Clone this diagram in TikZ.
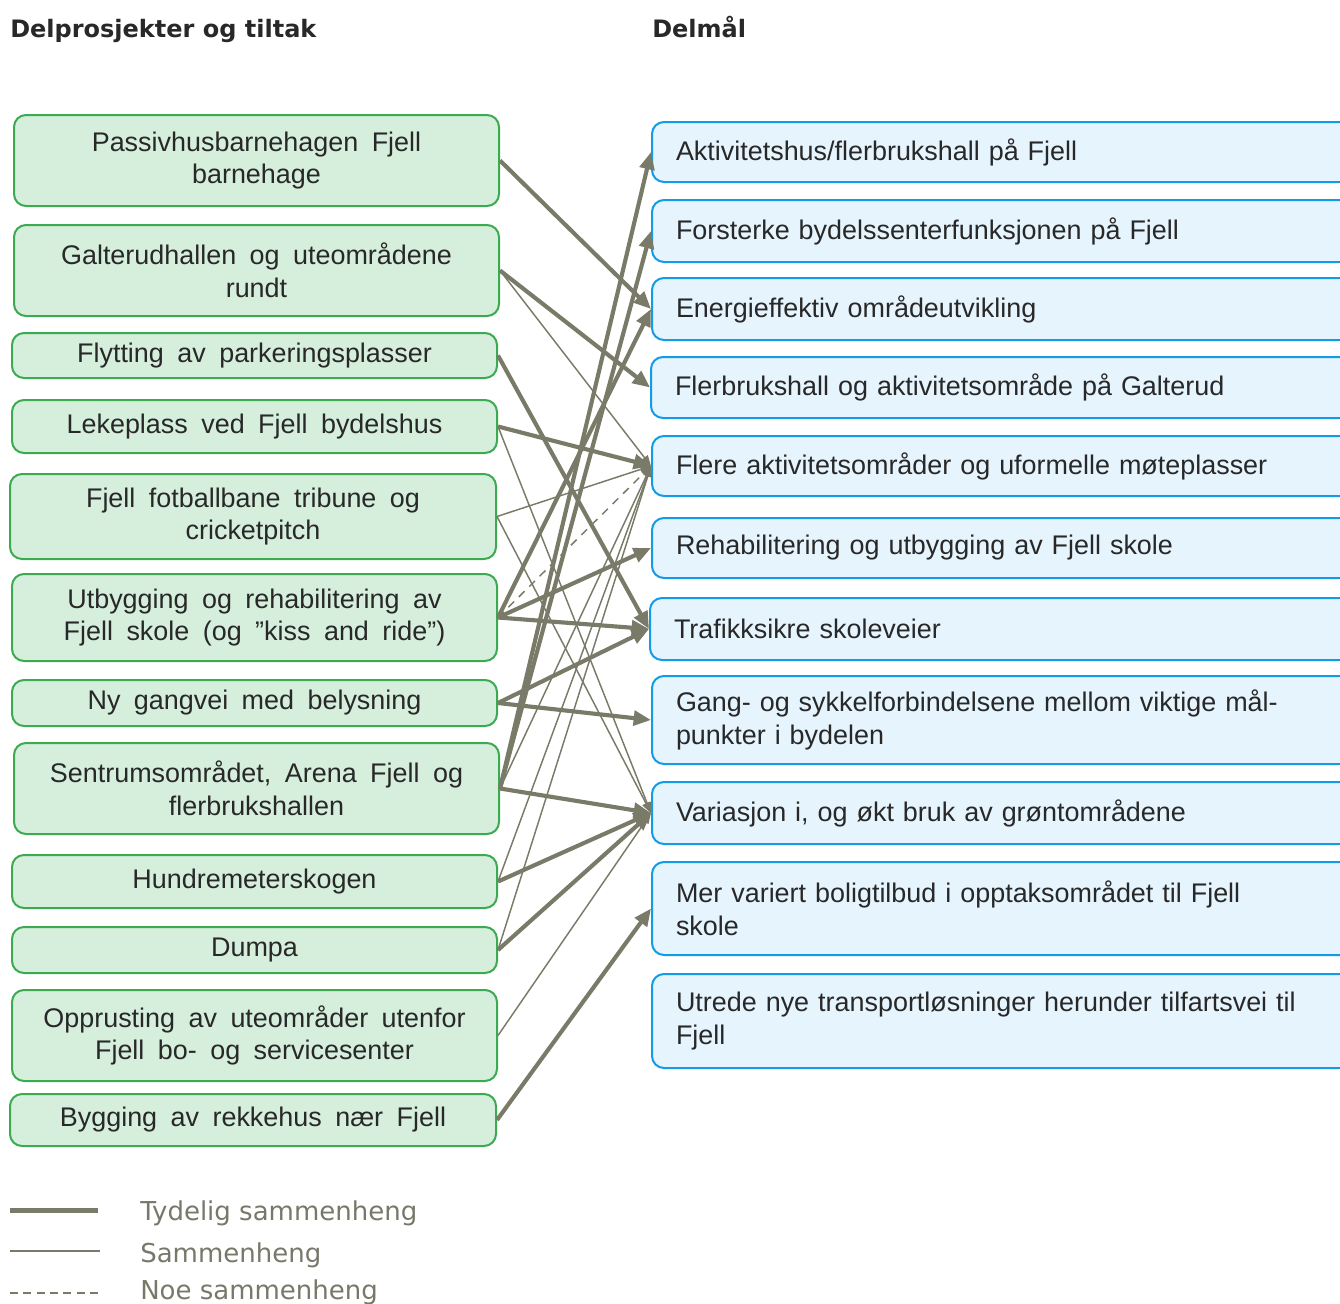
\documentclass[tikz,border=0pt]{standalone}
\usepackage{fontspec}
\setmainfont{Liberation Sans}[WordSpace=1.8]
\newfontfamily\vfont{DejaVu Sans}
\usetikzlibrary{arrows.meta}
\definecolor{gline}{RGB}{122,122,104}
\definecolor{gborder}{RGB}{60,170,80}
\definecolor{gfill}{RGB}{214,239,220}
\definecolor{bborder}{RGB}{20,155,232}
\definecolor{bfill}{RGB}{230,244,254}
\definecolor{txt}{RGB}{40,40,40}
\definecolor{legtxt}{RGB}{120,120,106}
\begin{document}
\begin{tikzpicture}[x=0.75pt,y=-0.75pt,
  boxfont/.style={font=\fontsize{20.2}{24.5}\selectfont},
  lbox/.style={draw=gborder, fill=gfill, line width=1.5pt, rounded corners=9pt,
    align=center, inner sep=0pt, text=txt, boxfont},
  rbox/.style={draw=bborder, fill=bfill, line width=1.5pt, rounded corners=9pt,
    align=left, anchor=west, inner xsep=18pt, inner ysep=0pt, text width=540pt,
    text=txt, boxfont},
  tyd/.style={draw=gline, line width=3.1pt, -{Triangle[length=13pt,width=11pt]}},
  sam/.style={draw=gline, line width=1.1pt, -{Triangle[length=8pt,width=6pt]}},
  noe/.style={draw=gline, line width=1.1pt, dash pattern=on 6pt off 5pt, -{Triangle[length=8pt,width=6pt]}},
  head/.style={anchor=base west, inner sep=0pt, text=txt, font=\vfont\bfseries\fontsize{18}{20}\selectfont},
  legtext/.style={anchor=base west, inner sep=0pt, text=legtxt, font=\vfont\fontsize{19.5}{24}\selectfont}
]
\useasboundingbox (0,0) rectangle (1340,1304);
\clip (0,0) rectangle (1340,1304);

% headers
\node[head] (h1) at (10,37) {Delprosjekter og tiltak};
\node[head] (h2) at (652,37) {Delmål};

% left boxes
\node[lbox, minimum width=363.75pt, minimum height=68.25pt] (L1) at (256.5,160.5) {Passivhusbarnehagen Fjell\\barnehage};
\node[lbox, minimum width=363.75pt, minimum height=68.25pt] (L2) at (256.5,270.5) {Galterudhallen og uteområdene\\rundt};
\node[lbox, minimum width=363.75pt, minimum height=33.75pt] (L3) at (254.5,355.5) {Flytting av parkeringsplasser};
\node[lbox, minimum width=363.75pt, minimum height=39.75pt] (L4) at (254.5,426.5) {Lekeplass ved Fjell bydelshus};
\node[lbox, minimum width=364.5pt, minimum height=63.75pt] (L5) at (253,516.5) {Fjell fotballbane tribune og\\cricketpitch};
\node[lbox, minimum width=363.75pt, minimum height=65.25pt] (L6) at (254.5,617.5) {Utbygging og rehabilitering av\\Fjell skole (og ”kiss and ride”)};
\node[lbox, minimum width=363.75pt, minimum height=34.5pt] (L7) at (254.5,703) {Ny gangvei med belysning};
\node[lbox, minimum width=363.75pt, minimum height=68.25pt] (L8) at (256.5,788.5) {Sentrumsområdet, Arena Fjell og\\flerbrukshallen};
\node[lbox, minimum width=363.75pt, minimum height=39.75pt] (L9) at (254.5,881.5) {Hundremeterskogen};
\node[lbox, minimum width=363.75pt, minimum height=34.5pt] (L10) at (254.5,950) {Dumpa};
\node[lbox, minimum width=363.75pt, minimum height=68.25pt] (L11) at (254.5,1035.5) {Opprusting av uteområder utenfor\\Fjell bo- og servicesenter};
\node[lbox, minimum width=364.5pt, minimum height=39pt] (L12) at (253,1120) {Bygging av rekkehus nær Fjell};

% right boxes
\node[rbox, minimum height=45pt] (R1) at (651,152) {Aktivitetshus/flerbrukshall på Fjell};
\node[rbox, minimum height=46.5pt] (R2) at (651,231) {Forsterke bydelssenterfunksjonen på Fjell};
\node[rbox, minimum height=46.5pt] (R3) at (651,309) {Energieffektiv områdeutvikling};
\node[rbox, minimum height=45.75pt] (R4) at (650,387.5) {Flerbrukshall og aktivitetsområde på Galterud};
\node[rbox, minimum height=45pt] (R5) at (651,466) {Flere aktivitetsområder og uformelle møteplasser};
\node[rbox, minimum height=45pt] (R6) at (651,548) {Rehabilitering og utbygging av Fjell skole};
\node[rbox, minimum height=46.5pt] (R7) at (649,629) {Trafikksikre skoleveier};
\node[rbox, minimum height=66pt] (R8) at (651,720) {Gang- og sykkelforbindelsene mellom viktige mål-\\punkter i bydelen};
\node[rbox, minimum height=46.5pt] (R9) at (651,813) {Variasjon i, og økt bruk av grøntområdene};
\node[rbox, minimum height=69.75pt] (R10) at (651,908.5) {Mer variert boligtilbud i opptaksområdet til Fjell\\skole};
\node[rbox, minimum height=70.5pt] (R11) at (651,1021) {Utrede nye transportløsninger herunder tilfartsvei til\\Fjell};

% thin connectors
\draw[sam] (L2.east) -- (R5.west);
\draw[sam] (L4.east) -- (R9.west);
\draw[sam] (L5.east) -- (R5.west);
\draw[sam] (L5.east) -- (R9.west);
\draw[sam] (L8.east) -- (R5.west);
\draw[sam] (L9.east) -- (R5.west);
\draw[sam] (L10.east) -- (R5.west);
\draw[sam] (L11.east) -- (R9.west);
% dashed
\draw[noe] (L6.east) -- (R5.west);
% thick connectors
\draw[tyd] (L1.east) -- (R3.west);
\draw[tyd] (L2.east) -- (R4.west);
\draw[tyd] (L3.east) -- (R7.west);
\draw[tyd] (L4.east) -- (R5.west);
\draw[tyd] (L6.east) -- (R3.west);
\draw[tyd] (L6.east) -- (R6.west);
\draw[tyd] (L6.east) -- (R7.west);
\draw[tyd] (L7.east) -- (R7.west);
\draw[tyd] (L7.east) -- (R8.west);
\draw[tyd] (L8.east) -- (R1.west);
\draw[tyd] (L8.east) -- (R2.west);
\draw[tyd] (L8.east) -- (R9.west);
\draw[tyd] (L9.east) -- (R9.west);
\draw[tyd] (L10.east) -- (R9.west);
\draw[tyd] (L12.east) -- (R10.west);

% legend
\coordinate (a1) at (10,1210); \coordinate (b1) at (98,1210);
\coordinate (a2) at (10,1251); \coordinate (b2) at (100,1251);
\coordinate (a3) at (10,1293); \coordinate (b3) at (100,1293);
\draw[gline, line width=3.75pt] (a1) -- (b1);
\draw[gline, line width=1.5pt] (a2) -- (b2);
\draw[gline, line width=1.5pt, dash pattern=on 6pt off 4pt] (a3) -- (b3);
\node[legtext] (t1) at (140,1220) {Tydelig sammenheng};
\node[legtext] (t2) at (140,1262) {Sammenheng};
\node[legtext] (t3) at (140,1299) {Noe sammenheng};
\end{tikzpicture}
\end{document}
